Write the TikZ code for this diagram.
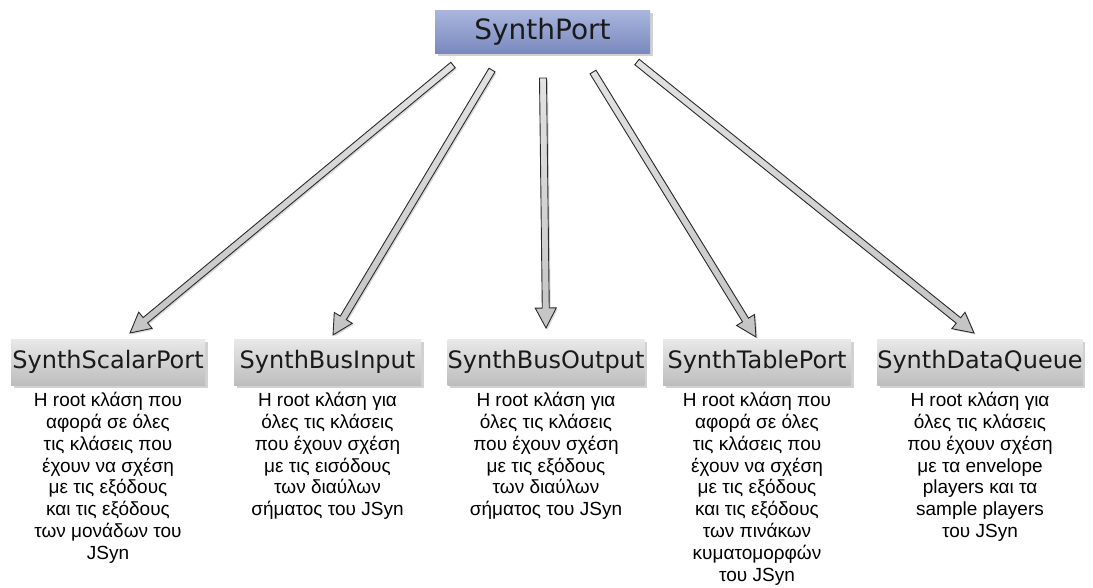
\documentclass[tikz,border=0pt]{standalone}
\usepackage{fontspec}
\setmainfont{Liberation Sans}
\newfontfamily\boxfont{DejaVu Sans}
\usetikzlibrary{calc,shadows}
\definecolor{topA}{HTML}{AAB6DE}
\definecolor{topB}{HTML}{7A89BE}
\definecolor{grA}{HTML}{E9E9E9}
\definecolor{grB}{HTML}{BDBDBD}
\definecolor{arrA}{HTML}{E2E2E2}
\definecolor{arrB}{HTML}{C4C4C4}
\definecolor{arrline}{HTML}{2A2A2A}
\definecolor{txt}{HTML}{1A1A1A}
\newcommand\blockarr[2]{%
  \coordinate (hb) at ($(#2)!20pt!(#1)$);
  \path[arrowshape] ($(#1)!3.5pt!90:(#2)$) -- ($(hb)!3.5pt!90:(#2)$) -- ($(hb)!10.5pt!90:(#2)$) -- (#2)
    -- ($(hb)!10.5pt!-90:(#2)$) -- ($(hb)!3.5pt!-90:(#2)$) -- ($(#1)!3.5pt!-90:(#2)$) -- cycle;
}
\begin{document}
\begin{tikzpicture}[x=1pt,y=-1pt,
  rootbox/.style={top color=topA, bottom color=topB, minimum width=215pt, minimum height=43pt,
    inner sep=0pt, text=txt, font=\boxfont\fontsize{28}{32}\selectfont,
    drop shadow={opacity=0.3, shadow xshift=2.5pt, shadow yshift=-2.5pt, fill=black!60}},
  classbox/.style={top color=grA, bottom color=grB, minimum height=46pt,
    inner sep=0pt, text=txt, font=\boxfont\fontsize{24}{28}\selectfont,
    drop shadow={opacity=0.3, shadow xshift=2.5pt, shadow yshift=-2.5pt, fill=black!60}},
  desc/.style={anchor=north, align=center, inner sep=0pt, text=black,
    font=\fontsize{19}{21.8}\selectfont},
  arrowshape/.style={draw=arrline, line width=0.9pt, top color=arrA, bottom color=arrB,
    line join=miter,
    drop shadow={opacity=0.25, shadow xshift=1.5pt, shadow yshift=-1.5pt, fill=black!60}}
]
\useasboundingbox (0,0) rectangle (1093,587);

\node[rootbox] (root) at (542.5,31.5) {SynthPort};

\node[classbox, minimum width=194pt] (c1) at (108,362) {SynthScalarPort};
\node[classbox, minimum width=187pt] (c2) at (327.5,362) {SynthBusInput};
\node[classbox, minimum width=194pt] (c3) at (546,362) {SynthBusOutput};
\node[classbox, minimum width=188pt] (c4) at (757,362) {SynthTablePort};
\node[classbox, minimum width=204pt] (c5) at (980,362) {SynthDataQueue};

\node[desc] (d1) at ($(c1.south)+(0,7)$) {Η root κλάση που\\αφορά σε όλες\\τις κλάσεις που\\έχουν να σχέση\\με τις εξόδους\\και τις εξόδους\\των μονάδων του\\JSyn};
\node[desc] (d2) at ($(c2.south)+(0,7)$) {Η root κλάση για\\όλες τις κλάσεις\\που έχουν σχέση\\με τις εισόδους\\των διαύλων\\σήματος του JSyn};
\node[desc] (d3) at ($(c3.south)+(0,7)$) {Η root κλάση για\\όλες τις κλάσεις\\που έχουν σχέση\\με τις εξόδους\\των διαύλων\\σήματος του JSyn};
\node[desc] (d4) at ($(c4.south)+(0,7)$) {Η root κλάση που\\αφορά σε όλες\\τις κλάσεις που\\έχουν να σχέση\\με τις εξόδους\\και τις εξόδους\\των πινάκων\\κυματομορφών\\του JSyn};
\node[desc] (d5) at ($(c5.south)+(0,7)$) {Η root κλάση για\\όλες τις κλάσεις\\που έχουν σχέση\\με τα envelope\\players και τα\\sample players\\του JSyn};

\coordinate (s1) at (453,65);  \coordinate (t1) at (130,333);
\coordinate (s2) at (492,70);  \coordinate (t2) at (333,335);
\coordinate (s3) at (543,78);  \coordinate (t3) at (546,328);
\coordinate (s4) at (593,72);  \coordinate (t4) at (756,337);
\coordinate (s5) at (637,62);  \coordinate (t5) at (974,333);

\blockarr{s1}{t1}
\blockarr{s2}{t2}
\blockarr{s3}{t3}
\blockarr{s4}{t4}
\blockarr{s5}{t5}
\end{tikzpicture}
\end{document}
